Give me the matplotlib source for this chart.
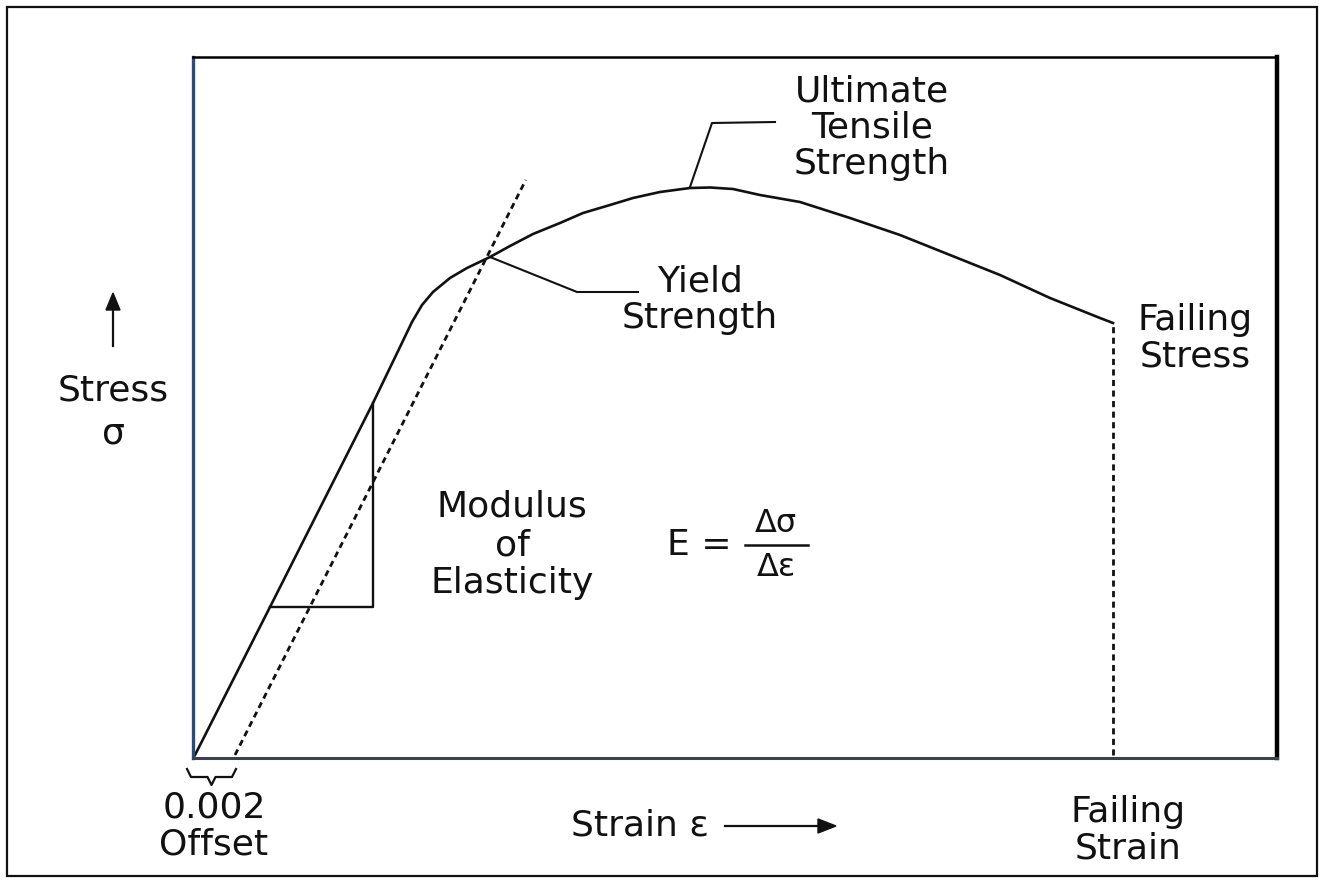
import matplotlib
matplotlib.use('Agg')
import matplotlib.pyplot as plt
from matplotlib.patches import Rectangle

plt.rcParams['font.family'] = ['DejaVu Sans']

# stress-strain curve (strain [-], stress [arbitrary units])
strain = [0.0, 0.00375, 0.0089, 0.01025, 0.01085, 0.01135, 0.0119, 0.01275, 0.0136, 0.01475,
          0.01575, 0.0169, 0.01825, 0.0194, 0.02075, 0.0219, 0.02325, 0.02475,
          0.02575, 0.0269, 0.02825, 0.03025, 0.03275, 0.03525,
          0.03775, 0.04025, 0.04275, 0.04525, 0.0459]
stress = [0, 148, 352, 408, 433, 450, 463, 477, 487, 498,
          509, 521, 532, 542, 550, 557, 563, 567,
          567.5, 566, 560, 553, 537, 520,
          500, 480, 457, 437, 432]

offset = 0.002          # 0.2 % offset
modulus = 39550         # slope of the elastic part
offset_top = 575        # where the dashed offset line stops
tri_low, tri_high = 148, 352   # modulus triangle
yield_pt = (0.01475, 498)
uts_pt = (0.02475, 568)
fail_pt = (strain[-1], stress[-1])

W, H = 1322, 884
fig = plt.figure(figsize=(W / 100, H / 100), dpi=100)
ax = fig.add_axes([193 / W, 1 - 758 / H, (1277 - 193) / W, (758 - 57) / H])
ax.set_xlim(-0.0001, 0.0541)
ax.set_ylim(-3, 698)
ax.set_xticks([])
ax.set_yticks([])
ax.spines['left'].set_color('#2f4c70')
ax.spines['left'].set_linewidth(2.4)
ax.spines['bottom'].set_color('#3a4250')
ax.spines['bottom'].set_linewidth(2.2)
ax.spines['top'].set_linewidth(1.8)
ax.spines['right'].set_linewidth(3.2)

ink = '#111111'
ax.plot(strain, stress, color=ink, lw=1.9, solid_joinstyle='round')

# 0.002 offset line, parallel to the elastic part
ax.plot([offset, offset + offset_top / modulus], [0, offset_top],
        color=ink, lw=2.0, ls=(0, (2.2, 1.6)))

# failing strain
ax.plot([fail_pt[0], fail_pt[0]], [0, fail_pt[1]], color=ink, lw=2.0, ls=(0, (2.2, 1.6)))

# modulus triangle
ax.plot([tri_low / modulus, tri_high / modulus, tri_high / modulus],
        [tri_low, tri_low, tri_high], color=ink, lw=1.7)

# leaders
ax.plot([yield_pt[0], 0.0191, 0.02215], [yield_pt[1], 463, 463], color=ink, lw=1.5)
ax.plot([uts_pt[0], 0.02585, 0.029], [uts_pt[1], 632, 633], color=ink, lw=1.5)

fs = 26


def ftext(x, y, s, **kw):
    kw.setdefault('ha', 'center')
    kw.setdefault('va', 'center')
    kw.setdefault('fontsize', fs)
    kw.setdefault('color', ink)
    kw.setdefault('linespacing', 1.08)
    fig.text(x / W, 1 - y / H, s, **kw)


ftext(872, 128, 'Ultimate\nTensile\nStrength')
ftext(700, 300, 'Yield\nStrength')
ftext(1195, 338, 'Failing\nStress')
ftext(512, 545, 'Modulus\nof\nElasticity', linespacing=1.15)
ftext(667, 545, 'E =', ha='left')
# E = delta sigma / delta epsilon, stacked by hand
ftext(776, 524, '\u0394\u03c3', fontsize=23)
ftext(776, 567, '\u0394\u03b5', fontsize=23)
fig.add_artist(plt.Line2D([745 / W, 808 / W], [1 - 545 / H] * 2, color=ink, lw=1.8))
ftext(113, 412, 'Stress\n\u03c3', linespacing=1.3)
ftext(1128, 830, 'Failing\nStrain')
ftext(214, 826, '0.002\nOffset')
ftext(640, 825, 'Strain \u03b5')

# arrows
fig.add_artist(plt.Line2D([725 / W, 820 / W], [1 - 826 / H] * 2, color=ink, lw=1.6))
fig.patches.append(plt.Polygon([[818 / W, 1 - 819 / H], [836 / W, 1 - 826 / H], [818 / W, 1 - 833 / H]],
                               closed=True, color=ink, transform=fig.transFigure))
fig.add_artist(plt.Line2D([113 / W] * 2, [1 - 346 / H, 1 - 308 / H], color=ink, lw=1.6))
fig.patches.append(plt.Polygon([[106 / W, 1 - 310 / H], [113 / W, 1 - 293 / H], [120 / W, 1 - 310 / H]],
                               closed=True, color=ink, transform=fig.transFigure))

# brace under the offset
bx0, bx1 = -0.0004, offset + 0.00005
bm = (bx0 + bx1) / 2
brace_x = [bx0, bx0 + 0.0002, bm - 0.0002, bm, bm + 0.0002, bx1 - 0.0002, bx1]
brace_y = [-14, -22, -22, -30, -22, -22, -14]
ax.plot(brace_x, brace_y, color=ink, lw=1.6, clip_on=False)

# outer frame
fig.patches.append(Rectangle((7 / W, 1 - 876 / H), (1317 - 7) / W, (876 - 7) / H,
                             fill=False, lw=1.6, ec=ink, transform=fig.transFigure))

fig.savefig('out.png', dpi=100, facecolor='white')
